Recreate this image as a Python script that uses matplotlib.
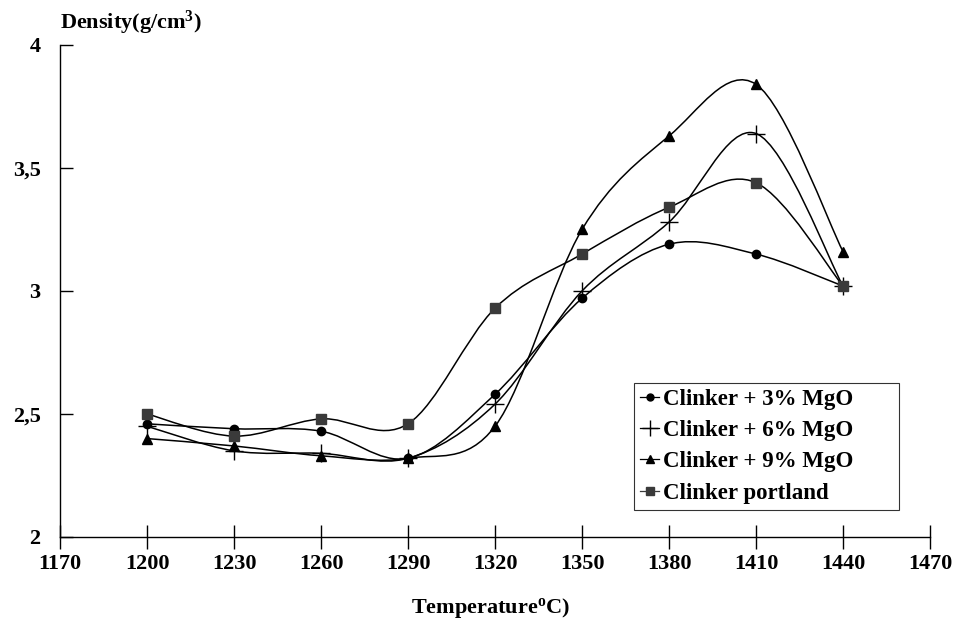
import numpy as np
import matplotlib
matplotlib.use("Agg")
import matplotlib.pyplot as plt
from matplotlib.path import Path
from matplotlib.patches import PathPatch
from matplotlib.lines import Line2D
from matplotlib.ticker import FuncFormatter

plt.rcParams['font.family'] = ['Liberation Serif', 'DejaVu Serif']
plt.rcParams['font.weight'] = 'bold'
plt.rcParams['mathtext.fontset'] = 'custom'
plt.rcParams['mathtext.rm'] = 'Liberation Serif:bold'
plt.rcParams['mathtext.default'] = 'regular'

# data
temperature = [1200, 1230, 1260, 1290, 1320, 1350, 1380, 1410, 1440]
mgo_3 = [2.46, 2.44, 2.43, 2.32, 2.58, 2.97, 3.19, 3.15, 3.02]
mgo_6 = [2.45, 2.35, 2.34, 2.32, 2.54, 3.00, 3.28, 3.64, 3.02]
mgo_9 = [2.40, 2.37, 2.33, 2.32, 2.45, 3.25, 3.63, 3.84, 3.16]
portland = [2.50, 2.41, 2.48, 2.46, 2.93, 3.15, 3.34, 3.44, 3.02]
labels = ['Clinker + 3% MgO', 'Clinker + 6% MgO', 'Clinker + 9% MgO', 'Clinker portland']

x_ticks = list(range(1170, 1471, 30))
y_ticks = [2, 2.5, 3, 3.5, 4]


def smooth_path(x, y):
    # Excel-style smoothed line: cubic bezier through the points
    pts = np.column_stack([x, y]).astype(float)
    n = len(pts)
    verts = [pts[0]]
    codes = [Path.MOVETO]
    for i in range(n - 1):
        p0 = pts[i - 1] if i > 0 else pts[i]
        p1 = pts[i]
        p2 = pts[i + 1]
        p3 = pts[i + 2] if i + 2 < n else pts[i + 1]
        c1 = p1 + (p2 - p0) / 6
        c2 = p2 - (p3 - p1) / 6
        verts += [c1, c2, p2]
        codes += [Path.CURVE4] * 3
    return Path(verts, codes)


fig = plt.figure(figsize=(9.54, 6.22), dpi=100)
ax = fig.add_axes([0.0629, 0.1367, 0.912, 0.791])

series = [mgo_3, mgo_6, mgo_9, portland]
styles = [
    dict(marker='o', markersize=6, color='black'),
    dict(marker='+', markersize=13, color='black', markeredgewidth=1.0),
    dict(marker='^', markersize=7, color='black'),
    dict(marker='s', markersize=7, color='#3a3a3a'),
]
leg_sizes = [5, 11, 6, 6]

handles = []
for vals, st, lab, ms in zip(series, styles, labels, leg_sizes):
    patch = PathPatch(smooth_path(temperature, vals), facecolor='none',
                      edgecolor='black', lw=1.1, zorder=2)
    ax.add_patch(patch)
    ax.plot(temperature, vals, linestyle='none', zorder=3, **st)
    hst = dict(st)
    hst['markersize'] = ms
    handles.append(Line2D([], [], linestyle='-', lw=0.9, **hst))

ax.set_xlim(1170, 1470)
ax.set_ylim(2, 4)
ax.set_xticks(x_ticks)
ax.set_yticks(y_ticks)
ax.yaxis.set_major_formatter(FuncFormatter(lambda v, p: ('%g' % v).replace('.', ',')))

ax.spines['top'].set_visible(False)
ax.spines['right'].set_visible(False)
ax.spines['left'].set_linewidth(1.0)
ax.spines['bottom'].set_linewidth(1.0)
ax.tick_params(axis='x', direction='inout', length=17, width=1.0, pad=4, labelsize=16)
ax.tick_params(axis='y', direction='in', length=9, width=1.0, pad=14, labelsize=16)

fig.text(0.0629, 0.963, 'Density(g/cm$^3$)', fontsize=16, ha='left', va='center')
fig.text(0.514, 0.022, 'Temperature$^o$C)', fontsize=16, ha='center', va='center')

leg = ax.legend(handles=handles, labels=labels, loc='upper left',
                bbox_to_anchor=(0.66, 0.0, 0.3046, 0.313), mode='expand',
                fontsize=16.5, frameon=True,
                fancybox=False, edgecolor='black', handlelength=0.85,
                handletextpad=0.15, labelspacing=0.45, borderpad=0.25,
                borderaxespad=0)
leg.get_frame().set_linewidth(0.8)

plt.savefig('out.png', dpi=100)
